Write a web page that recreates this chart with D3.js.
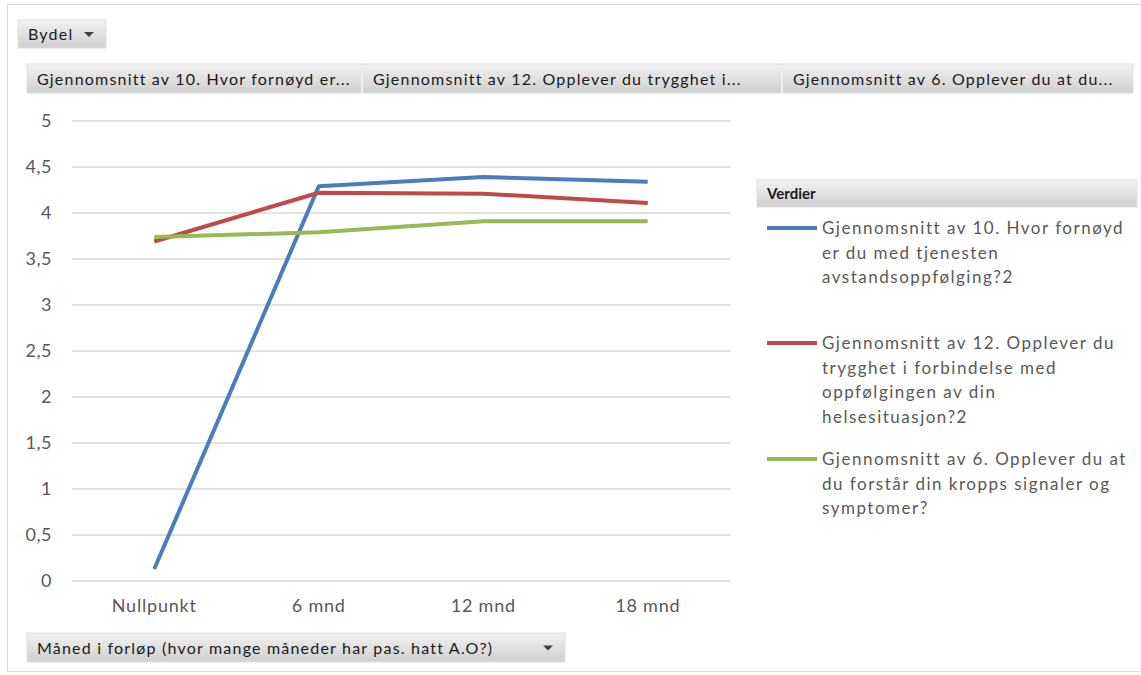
<!DOCTYPE html>
<html>
<head>
<meta charset="utf-8">
<script src="https://cdn.jsdelivr.net/npm/d3@7"></script>
<style>
  body { margin: 0; background: #fff; }
  svg { display: block; font-family: Lato, "Open Sans", sans-serif; }
</style>
</head>
<body>
<div id="chart"></div>
<script>
// Data
const categories = ["Nullpunkt", "6 mnd", "12 mnd", "18 mnd"];
const seriesNames = [
  "Gjennomsnitt av 10. Hvor fornøyd er du med tjenesten avstandsoppfølging?2",
  "Gjennomsnitt av 12. Opplever du trygghet i forbindelse med oppfølgingen av din helsesituasjon?2",
  "Gjennomsnitt av 6. Opplever du at du forstår din kropps signaler og symptomer?"
];
const legendLines = [
  ["Gjennomsnitt av 10. Hvor fornøyd", "er du med tjenesten", "avstandsoppfølging?2"],
  ["Gjennomsnitt av 12. Opplever du", "trygghet i forbindelse med", "oppfølgingen av din", "helsesituasjon?2"],
  ["Gjennomsnitt av 6. Opplever du at", "du forstår din kropps signaler og", "symptomer?"]
];
const fieldButtons = [
  "Gjennomsnitt av 10.  Hvor fornøyd er...",
  "Gjennomsnitt av 12.  Opplever du trygghet i...",
  "Gjennomsnitt av 6.  Opplever du at du..."
];
const blueValues = [0.13, 4.29, 4.39, 4.34];
const redValues = [3.69, 4.22, 4.21, 4.11];
const greenValues = [3.74, 3.79, 3.91, 3.91];
const yTicks = [0, 0.5, 1, 1.5, 2, 2.5, 3, 3.5, 4, 4.5, 5];
const yTickLabels = ["0", "0,5", "1", "1,5", "2", "2,5", "3", "3,5", "4", "4,5", "5"];
const colors = ["#4a7ebb", "#be4b48", "#98b954"];

const W = 1141, H = 675;
const svg = d3.select("#chart").append("svg")
  .attr("width", W).attr("height", H);

// gradient for the grey pivot buttons
const defs = svg.append("defs");
const grad = defs.append("linearGradient").attr("id", "btn")
  .attr("x1", 0).attr("y1", 0).attr("x2", 0).attr("y2", 1);
grad.append("stop").attr("offset", "0%").attr("stop-color", "#f2f2f2");
grad.append("stop").attr("offset", "100%").attr("stop-color", "#cfcfcf");

// outer frame
svg.append("rect")
  .attr("x", 7.5).attr("y", 4.5).attr("width", W).attr("height", H - 8)
  .attr("fill", "none").attr("stroke", "#d9d9d9");

function button(x, y, w, h, label, arrow) {
  const g = svg.append("g").attr("transform", `translate(${x},${y})`);
  g.append("rect").attr("width", w).attr("height", h)
    .attr("fill", "url(#btn)").attr("stroke", "#e0e0e0");
  g.append("text").attr("x", 10).attr("y", h / 2 + 6)
    .style("font-size", "16px").style("letter-spacing", "1.2px")
    .style("fill", "#1a1a1a")
    .text(label);
  if (arrow) {
    g.append("path")
      .attr("d", `M${arrow - 5},${h / 2 - 2} L${arrow + 5},${h / 2 - 2} L${arrow},${h / 2 + 3} Z`)
      .attr("fill", "#404040");
  }
  return g;
}

button(18, 20, 88, 28, "Bydel", 71);
const bx = [27, 363, 783];
const bw = [334, 418, 350];
fieldButtons.forEach((t, i) => button(bx[i], 64, bw[i], 29, t));
button(27, 633, 538, 29, "Måned i forløp (hvor mange måneder har pas. hatt A.O?)", 521);

// scales
const x = d3.scaleBand().domain(categories).range([72, 730]);
const y = d3.scaleLinear().domain([0, 5]).range([581, 121]);

// grid
svg.append("g").selectAll("line").data(yTicks).join("line")
  .attr("x1", 72).attr("x2", 730)
  .attr("y1", d => y(d)).attr("y2", d => y(d))
  .attr("stroke", "#d9d9d9").attr("stroke-width", 1.5);

// y labels
svg.append("g").selectAll("text").data(yTicks).join("text")
  .attr("x", 52).attr("y", d => y(d) + 6)
  .attr("text-anchor", "end")
  .style("font-size", "18px").style("letter-spacing", "0.5px").style("fill", "#595959")
  .text((d, i) => yTickLabels[i]);

// x labels
svg.append("g").selectAll("text").data(categories).join("text")
  .attr("x", d => x(d) + x.bandwidth() / 2).attr("y", 612)
  .attr("text-anchor", "middle")
  .style("font-size", "18px").style("letter-spacing", "0.8px").style("fill", "#595959")
  .text(d => d);

// lines
const line = d3.line()
  .x((d, i) => x(categories[i]) + x.bandwidth() / 2)
  .y(d => y(d));
[blueValues, redValues, greenValues].forEach((vals, i) => {
  svg.append("path").datum(vals)
    .attr("d", line)
    .attr("fill", "none")
    .attr("stroke", colors[i])
    .attr("stroke-width", 4)
    .attr("stroke-linejoin", "round");
});

// legend
const lg = svg.append("g");
lg.append("rect").attr("x", 757).attr("y", 180).attr("width", 380).attr("height", 27)
  .attr("fill", "url(#btn)").attr("stroke", "#e0e0e0");
lg.append("text").attr("x", 767).attr("y", 199)
  .style("font-size", "15px").style("font-weight", "bold").style("fill", "#1a1a1a")
  .text("Verdier");

const legendY = [228, 343, 459];
legendLines.forEach((lines, i) => {
  lg.append("line")
    .attr("x1", 767).attr("x2", 817)
    .attr("y1", legendY[i]).attr("y2", legendY[i])
    .attr("stroke", colors[i]).attr("stroke-width", 4);
  const t = lg.append("text")
    .attr("x", 822).attr("y", legendY[i] + 6)
    .style("font-size", "17px").style("letter-spacing", "1.5px").style("fill", "#595959");
  t.append("title").text(seriesNames[i]);
  lines.forEach((l, j) => {
    t.append("tspan").attr("x", 822).attr("dy", j === 0 ? 0 : 24.5).text(l);
  });
});
</script>
</body>
</html>
